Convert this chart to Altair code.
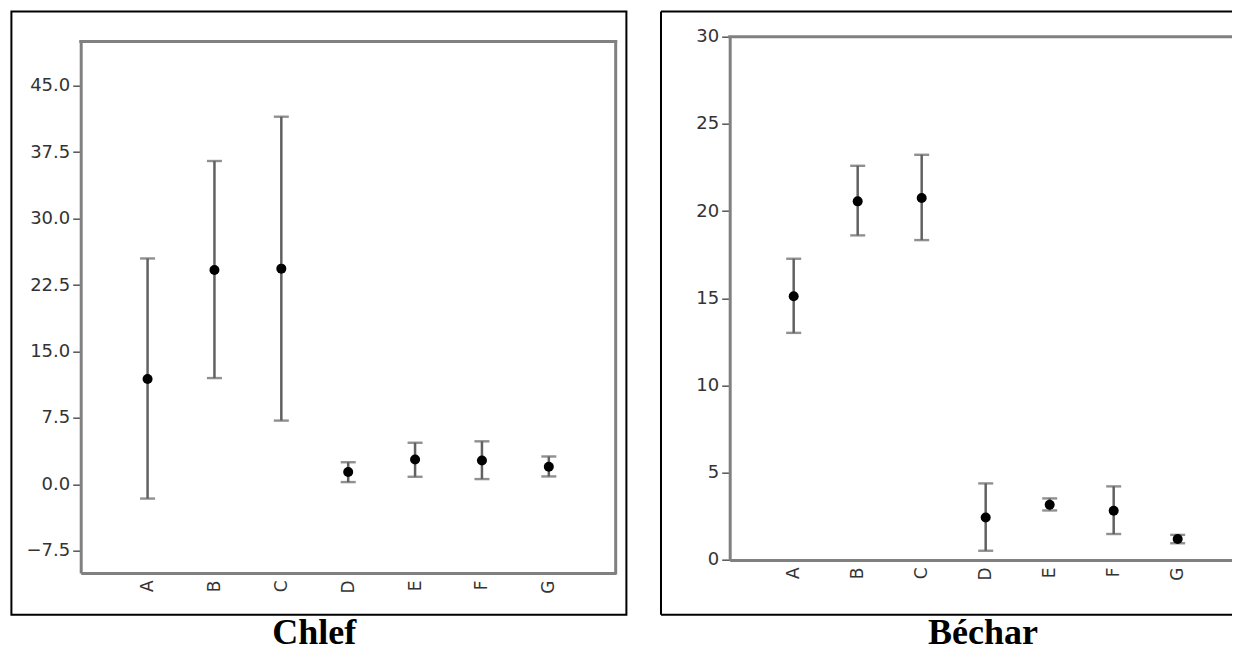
import altair as alt
import pandas as pd

categories = ["A", "B", "C", "D", "E", "F", "G"]
regions = ["Chlef", "Béchar"]

chlef_mean = [11.9, 24.2, 24.35, 1.4, 2.8, 2.7, 2.0]
chlef_low = [-1.6, 12.0, 7.2, 0.26, 0.86, 0.6, 0.9]
chlef_high = [25.5, 36.5, 41.5, 2.5, 4.7, 4.86, 3.15]
chlef_ticks = [-7.5, 0.0, 7.5, 15.0, 22.5, 30.0, 37.5, 45.0]

bechar_mean = [15.12, 20.56, 20.75, 2.44, 3.17, 2.82, 1.2]
bechar_low = [13.02, 18.61, 18.34, 0.53, 2.84, 1.49, 0.96]
bechar_high = [17.27, 22.6, 23.23, 4.39, 3.53, 4.22, 1.44]
bechar_ticks = [0, 5, 10, 15, 20, 25, 30]

AXIS_GRAY = "#808080"
BAR_GRAY = "#616161"
LABEL_FONT = "DejaVu Sans"


def panel(mean, low, high, domain, ticks, fmt, w, h, top):
    """Error-bar panel; plot area spans y from `top` to `h` inside a group of height h."""
    df = pd.DataFrame({"cat": categories, "mean": mean, "low": low, "high": high})
    x = alt.X(
        "cat:N",
        sort=categories,
        scale=alt.Scale(type="point", padding=1),
        axis=alt.Axis(
            title=None, labelAngle=-90, ticks=False, labelPadding=7,
            labelFont=LABEL_FONT, labelFontSize=17, labelColor="#333333",
            domainColor=AXIS_GRAY, domainWidth=3,
        ),
    )
    yaxis = alt.Axis(
        title=None, values=ticks, format=fmt, grid=False,
        tickSize=8, tickWidth=1.5, tickColor="#555555", labelPadding=3,
        labelFont=LABEL_FONT, labelFontSize=18, labelColor="#333333",
        domainColor=AXIS_GRAY, domainWidth=3,
    )
    yscale = alt.Scale(domain=domain, nice=False, zero=False, range=[h, top])
    base = alt.Chart(df)
    rule = base.mark_rule(color=BAR_GRAY, strokeWidth=2.5).encode(
        x=x, y=alt.Y("low:Q", scale=yscale, axis=yaxis), y2="high:Q"
    )
    cap_lo = base.mark_tick(color=BAR_GRAY, size=15, thickness=2.4, orient="horizontal").encode(
        x=x, y=alt.Y("low:Q", scale=yscale, axis=yaxis)
    )
    cap_hi = base.mark_tick(color=BAR_GRAY, size=15, thickness=2.4, orient="horizontal").encode(
        x=x, y=alt.Y("high:Q", scale=yscale, axis=yaxis)
    )
    pts = base.mark_circle(color="black", opacity=1, size=100).encode(
        x=x, y=alt.Y("mean:Q", scale=yscale, axis=yaxis)
    )
    # plot border: top and right edges (left/bottom are the axis domains)
    bdf = pd.DataFrame({"k": [0]})
    b_top = alt.Chart(bdf).mark_rule(color=AXIS_GRAY, strokeWidth=3, strokeCap="square").encode(
        x=alt.value(0), x2=alt.value(w), y=alt.value(top)
    )
    b_right = alt.Chart(bdf).mark_rule(color=AXIS_GRAY, strokeWidth=3, strokeCap="square").encode(
        x=alt.value(w), y=alt.value(top), y2=alt.value(h)
    )
    return alt.layer(rule, cap_lo, cap_hi, pts, b_top, b_right)


def title_layer(name, tx, ty):
    tdf = pd.DataFrame({"name": [name]})
    return alt.Chart(tdf).mark_text(
        font="Liberation Serif", fontSize=36, fontWeight="bold", color="black",
        align="center", baseline="alphabetic",
    ).encode(text="name:N", x=alt.value(tx), y=alt.value(ty))


# Both groups share the same origin (page y = 36); left plot area starts 4.7 px lower.
FRAME_TOP = -25.3
FRAME_BOTTOM = 578
TITLE_Y = 607

# Left panel (Chlef)
LW, LH, LTOP = 535, 536.3, 4.7
left_frame = alt.Chart(pd.DataFrame({"name": [regions[0]]})).mark_rect(
    fillOpacity=0, stroke="black", strokeWidth=2
).encode(x=alt.value(-69.3), x2=alt.value(545.7), y=alt.value(FRAME_TOP), y2=alt.value(FRAME_BOTTOM))
left = alt.layer(
    panel(chlef_mean, chlef_low, chlef_high, [-10, 50], chlef_ticks, ".1f", LW, LH, LTOP),
    left_frame,
    title_layer(regions[0], 233.5, TITLE_Y),
).properties(width=LW, height=LH)

# Right panel (Béchar) - runs off the right edge of the picture
RW, RH, RTOP = 512, 523.3, 0
rdf = pd.DataFrame({"name": [regions[1]]})
r_top = alt.Chart(rdf).mark_rule(color="black", strokeWidth=2).encode(
    x=alt.value(-68.7), x2=alt.value(RW + 2), y=alt.value(FRAME_TOP)
)
r_bot = alt.Chart(rdf).mark_rule(color="black", strokeWidth=2).encode(
    x=alt.value(-68.7), x2=alt.value(RW + 2), y=alt.value(FRAME_BOTTOM)
)
r_left = alt.Chart(rdf).mark_rule(color="black", strokeWidth=2).encode(
    x=alt.value(-68.7), y=alt.value(FRAME_TOP), y2=alt.value(FRAME_BOTTOM)
)
right = alt.layer(
    panel(bechar_mean, bechar_low, bechar_high, [0, 30], bechar_ticks, "d", RW, RH, RTOP),
    r_top, r_bot, r_left,
    title_layer(regions[1], 253.3, TITLE_Y),
).properties(width=RW, height=RH)

chart = (
    alt.hconcat(left, right, spacing=32)
    .properties(padding={"left": 1.7, "top": 1.7, "right": -13, "bottom": -6})
    .configure_view(strokeWidth=0)
)

chart.save("out.html", embed_options={"renderer": "svg", "actions": False})
